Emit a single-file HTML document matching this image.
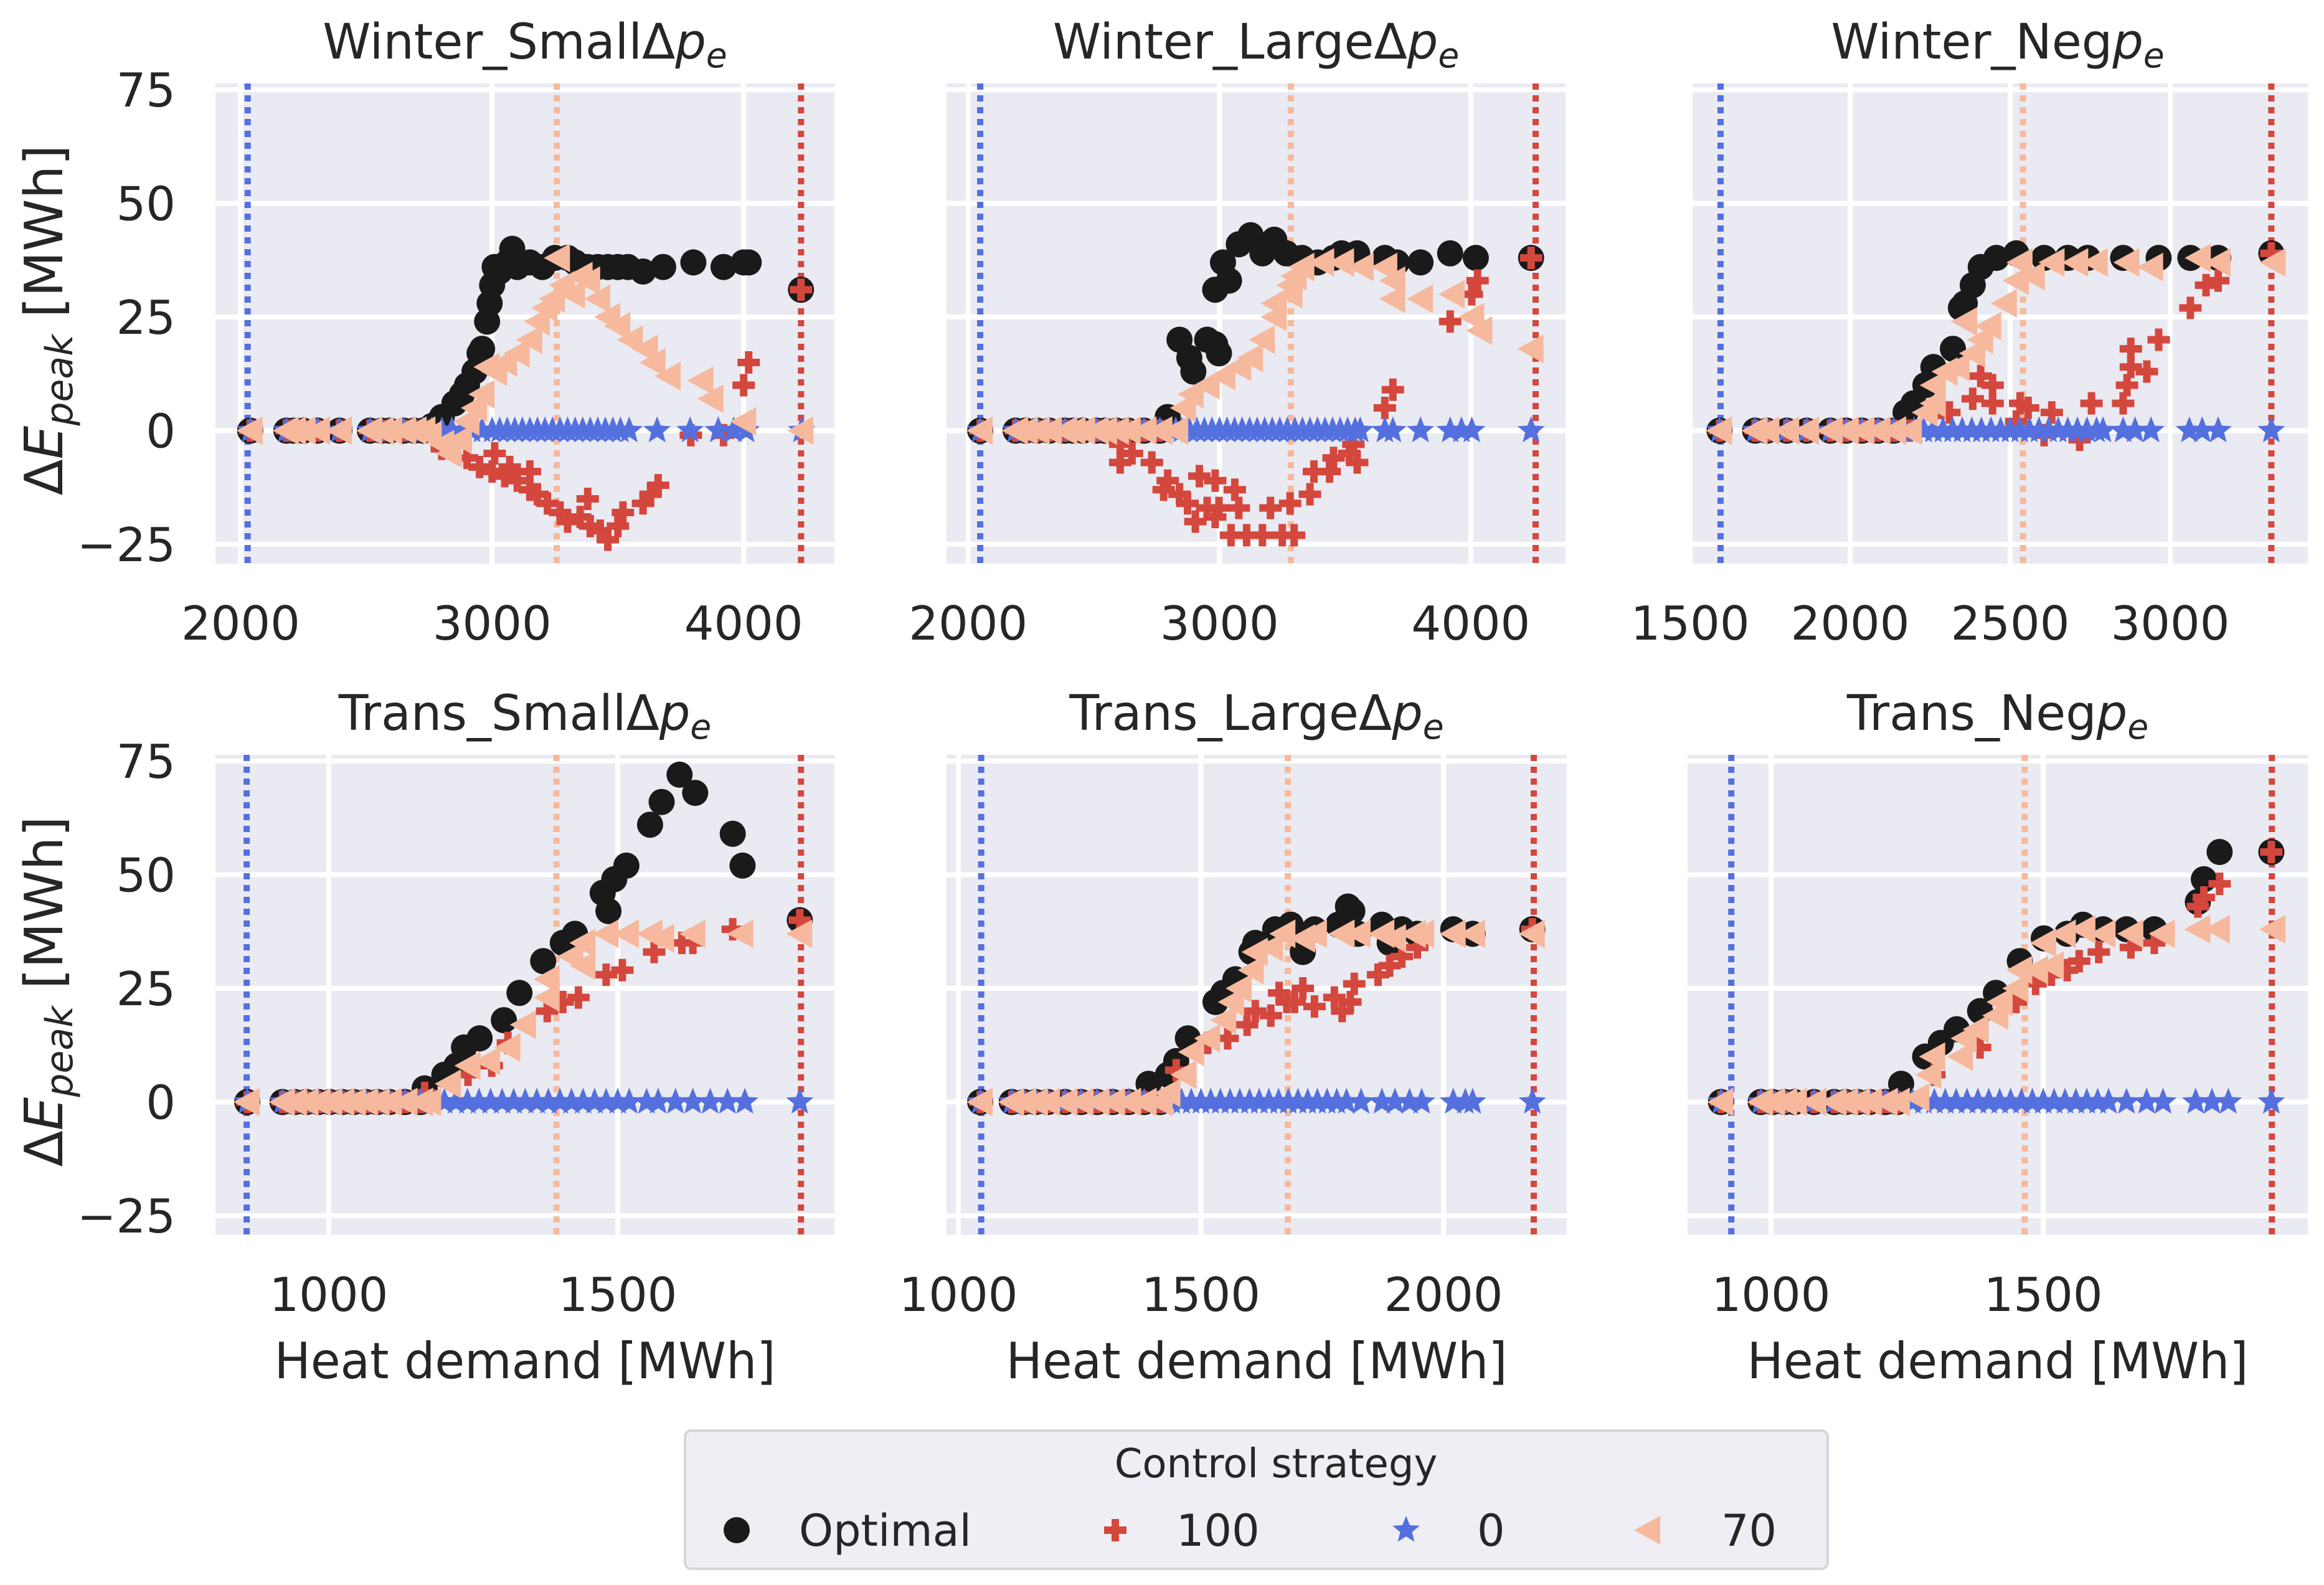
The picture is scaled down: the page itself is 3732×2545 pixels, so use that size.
<!DOCTYPE html>
<html><head><meta charset="utf-8"><style>
html,body{margin:0;padding:0;background:#fff;}
svg{display:block;font-family:"DejaVu Sans","Liberation Sans",sans-serif;}
</style></head><body>
<svg id="fig" width="3732" height="2545" viewBox="0 0 3732 2545" xmlns="http://www.w3.org/2000/svg"></svg>
<script>
// ---------- DATA ----------
const yTicks = [-25, 0, 25, 50, 75];
const titles = ["Winter_Small\u0394", "Winter_Large\u0394", "Winter_Neg", "Trans_Small\u0394", "Trans_Large\u0394", "Trans_Neg"];
const xTicks1 = [2000, 3000, 4000];
const xTicks2 = [2000, 3000, 4000];
const xTicks3 = [1500, 2000, 2500, 3000];
const xTicks4 = [1000, 1500];
const xTicks5 = [1000, 1500, 2000];
const xTicks6 = [1000, 1500];
const vlineBlue = [2028, 2048, 1595, 858, 1047, 927];
const vlinePeach = [3257, 3284, 2540, 1394, 1679, 1466];
const vlineRed = [4228, 4258, 3316, 1817, 2186, 1920];

const p1LowX = [2038, 2182, 2210, 2249, 2306, 2393, 2514, 2560, 2593, 2648, 2690];
const p1OptX = [2725,2760,2800,2850,2880,2900,2930,2950,2960,2980,2990,3000,3010,3030,3060,3080,3100,3150,3200,3250,3300,3330,3380,3420,3460,3500,3540,3600,3680,3800,3920,4000,4020,4228];
const p1OptY = [0,1,3,6,8,10,13,17,18,24,28,32,36,35,37,40,36,37,36,38,38,37,36,36,36,36,36,35,36,37,36,37,37,31];
const p1HundX = [2725,2800,2850,2900,2950,3000,3010,3050,3070,3100,3150,3150,3180,3220,3270,3300,3350,3380,3390,3430,3460,3500,3520,3600,3630,3660,3790,3920,4000,4020,4228];
const p1HundY = [0,-4,-3,-6,-8,-9,-5,-10,-8,-11,-13,-9,-14,-16,-18,-20,-19,-15,-21,-22,-24,-21,-18,-16,-14,-12,-1,-1,10,15,31];
const p1ZeroX = [2725,2760,2800,2840,2880,2920,2960,3000,3030,3060,3090,3120,3150,3180,3210,3240,3270,3300,3330,3360,3390,3420,3450,3480,3510,3545,3656,3787,3899,3960,4010,4230];
const p1ZeroY = [0,0,0,0,0,0,0,0,0,0,0,0,0,0,0,0,0,0,0,0,0,0,0,0,0,0,0,0,0,0,0,0];
const p1SevX = [2725,2750,2800,2830,2870,2900,2930,2960,2980,3010,3050,3100,3150,3180,3210,3240,3260,3280,3320,3350,3380,3420,3460,3500,3550,3610,3640,3700,3830,3870,4000,4228];
const p1SevY = [0,-1,-3,-5,-2,2,5,8,14,13,15,17,20,24,27,29,38,32,30,34,33,29,25,23,20,18,15,12,11,7,2,0];

const p2LowX = [2048,2189,2228,2275,2323,2385,2417,2456,2511,2543,2590,2637,2700,2763];
const p2OptX = [2794,2841,2880,2896,2951,2983,2998,2983,3038,3014,3077,3124,3171,3218,3266,3328,3391,3454,3486,3548,3658,3706,3800,3918,4020,4240];
const p2OptY = [3,20,16,13,20,19,17,31,33,37,41,43,39,42,39,38,37,38,39,39,38,37,37,39,38,38];
const p2HundX = [2605,2652,2605,2731,2794,2778,2841,2920,2983,2873,2951,2998,3061,3077,2904,2983,3046,3108,3171,3250,3297,3203,3281,3360,3376,3438,3454,3517,3548,3533,3658,3690,3918,4004,4027,4240];
const p2HundY = [-3,-5,-7,-7,-11,-13,-14,-10,-11,-16,-17,-17,-13,-17,-20,-19,-23,-23,-23,-23,-23,-17,-16,-14,-9,-9,-6,-5,-7,-3,5,9,24,30,33,38];
const p2ZeroX = [2763,2826,2850,2880,2910,2940,2970,3000,3030,3060,3090,3120,3150,3180,3210,3240,3270,3300,3330,3360,3390,3420,3450,3480,3510,3540,3560,3658,3690,3800,3918,3963,4004,4240];
const p2ZeroY = [0,0,0,0,0,0,0,0,0,0,0,0,0,0,0,0,0,0,0,0,0,0,0,0,0,0,0,0,0,0,0,0,0,0];
const p2SevX = [2763,2826,2857,2888,2951,3014,3077,3124,3171,3218,3218,3281,3281,3297,3328,3407,3486,3564,3658,3690,3690,3800,3926,4004,4036,4240];
const p2SevY = [0,0,5,8,10,12,14,16,20,25,28,30,32,34,36,37,37,36,36,33,29,29,30,25,22,18];

const p3LowX = [1592,1703,1740,1802,1864,1938,1988,2037,2087,2136];
const p3OptX = [2173,2198,2235,2260,2321,2346,2358,2383,2408,2457,2519,2606,2680,2742,2853,2964,3063,3150,3316];
const p3OptY = [4,6,10,14,18,27,28,32,36,38,39,38,38,38,38,38,38,38,39];
const p3HundX = [2185,2284,2310,2383,2408,2445,2445,2531,2556,2519,2630,2606,2754,2717,2853,2865,2877,2927,2877,2964,3063,3112,3150,3316];
const p3HundY = [0,5,4,7,12,10,6,6,5,2,4,-1,6,-2,6,10,14,13,18,20,27,32,33,39];
const p3ZeroX = [2136,2170,2200,2230,2260,2290,2320,2350,2380,2410,2440,2470,2500,2530,2560,2590,2620,2650,2680,2710,2740,2770,2790,2853,2890,2940,3060,3100,3150,3316];
const p3ZeroY = [0,0,0,0,0,0,0,0,0,0,0,0,0,0,0,0,0,0,0,0,0,0,0,0,0,0,0,0,0,0];
const p3SevX = [2136,2185,2235,2260,2260,2297,2334,2383,2408,2358,2433,2482,2519,2531,2569,2631,2705,2766,2865,2939,3088,3150,3322];
const p3SevY = [0,0,4,6,10,13,14,17,20,24,23,28,33,37,34,37,37,37,37,36,38,37,37];

const p4LowX = [859,920,941,961,982,1002,1023,1043,1064,1084,1105,1132,1159];
const p4OptX = [1166,1200,1221,1234,1261,1303,1330,1371,1405,1426,1484,1474,1494,1515,1556,1576,1607,1634,1699,1716,1815];
const p4OptY = [3,6,8,12,14,18,24,31,35,37,42,46,49,52,61,66,72,68,59,52,40];
const p4HundX = [1166,1241,1282,1310,1378,1405,1432,1480,1508,1563,1611,1630,1699,1815];
const p4HundY = [2,6,8,13,20,22,23,28,29,33,35,35,38,40];
const p4ZeroX = [1159,1180,1200,1220,1240,1260,1280,1300,1320,1340,1360,1380,1400,1420,1440,1460,1480,1500,1520,1550,1570,1600,1630,1660,1690,1720,1815];
const p4ZeroY = [0,0,0,0,0,0,0,0,0,0,0,0,0,0,0,0,0,0,0,0,0,0,0,0,0,0,0];
const p4SevX = [1159,1173,1207,1241,1275,1310,1337,1378,1378,1419,1440,1440,1480,1515,1556,1576,1630,1713,1815];
const p4SevY = [0,0,4,8,9,12,17,23,27,32,30,35,37,37,37,36,37,37,37];

const p5LowX = [1045,1110,1135,1159,1184,1220,1253,1286,1318,1351,1383,1416];
const p5OptX = [1392,1432,1449,1473,1530,1546,1571,1604,1612,1653,1685,1710,1734,1783,1803,1812,1824,1873,1889,1914,1946,2020,2060,2183];
const p5OptY = [4,6,9,14,22,24,27,33,35,38,39,33,38,39,43,42,37,39,35,38,37,38,37,38];
const p5HundX = [1449,1514,1555,1595,1612,1644,1661,1677,1693,1710,1734,1775,1791,1808,1816,1865,1889,1914,1946,2183];
const p5HundY = [7,13,14,17,20,19,24,22,22,25,21,23,20,22,26,28,30,32,34,38];
const p5ZeroX = [1416,1440,1460,1480,1500,1520,1540,1560,1580,1600,1620,1640,1660,1680,1700,1720,1740,1760,1780,1800,1830,1873,1900,1930,1955,2020,2045,2060,2183];
const p5ZeroY = [0,0,0,0,0,0,0,0,0,0,0,0,0,0,0,0,0,0,0,0,0,0,0,0,0,0,0,0,0];
const p5SevX = [1416,1432,1465,1481,1514,1547,1563,1579,1604,1612,1644,1669,1710,1734,1791,1824,1873,1897,1938,1955,2020,2060,2183];
const p5SevY = [0,2,6,11,14,18,22,25,29,33,34,37,36,37,37,37,37,36,37,37,37,37,37];

const p6LowX = [908,981,1003,1025,1043,1079,1116,1137,1159,1181,1210,1232];
const p6OptX = [1239,1283,1312,1341,1384,1413,1457,1501,1544,1573,1610,1653,1704,1784,1795,1824,1919];
const p6OptY = [4,10,13,16,20,24,31,36,37,39,38,38,38,44,49,55,55];
const p6HundX = [1300,1384,1450,1486,1515,1544,1566,1602,1661,1704,1784,1795,1824,1919];
const p6HundY = [6,12,22,26,28,29,31,33,34,35,43,45,48,55];
const p6ZeroX = [1232,1260,1280,1300,1320,1340,1360,1380,1400,1420,1440,1460,1480,1500,1520,1540,1560,1580,1600,1620,1653,1690,1720,1780,1810,1840,1919];
const p6ZeroY = [0,0,0,0,0,0,0,0,0,0,0,0,0,0,0,0,0,0,0,0,0,0,0,0,0,0,0];
const p6SevX = [1232,1268,1290,1297,1348,1355,1377,1413,1421,1450,1457,1486,1515,1501,1537,1573,1610,1661,1719,1784,1820,1922];
const p6SevY = [0,1,6,10,10,14,16,19,22,25,29,29,30,35,37,38,37,37,37,38,38,38];

// ---------- LAYOUT ----------
const NS = "http://www.w3.org/2000/svg";
const svg = document.getElementById("fig");
const C_OPT = "#1a1a1a", C_100 = "#d4473d", C_0 = "#5470df", C_70 = "#f6b99d";
const geo = [
  {l:346, t:134, w:994, xmin:1900, xmax:4361},
  {l:1520, t:134, w:994, xmin:1914, xmax:4377},
  {l:2710, t:134, w:996, xmin:1492, xmax:3430},
  {l:346, t:1212, w:994, xmin:804, xmax:1875},
  {l:1520, t:1212, w:996, xmin:975.6, xmax:2254},
  {l:2710, t:1212, w:996, xmin:846.7, xmax:1986}
];
const H = 771, YMIN = -29.25, YMAX = 76.37;
const allTicks = [xTicks1, xTicks2, xTicks3, xTicks4, xTicks5, xTicks6];
const series = [
  [p1LowX, p1OptX, p1OptY, p1HundX, p1HundY, p1ZeroX, p1ZeroY, p1SevX, p1SevY],
  [p2LowX, p2OptX, p2OptY, p2HundX, p2HundY, p2ZeroX, p2ZeroY, p2SevX, p2SevY],
  [p3LowX, p3OptX, p3OptY, p3HundX, p3HundY, p3ZeroX, p3ZeroY, p3SevX, p3SevY],
  [p4LowX, p4OptX, p4OptY, p4HundX, p4HundY, p4ZeroX, p4ZeroY, p4SevX, p4SevY],
  [p5LowX, p5OptX, p5OptY, p5HundX, p5HundY, p5ZeroX, p5ZeroY, p5SevX, p5SevY],
  [p6LowX, p6OptX, p6OptY, p6HundX, p6HundY, p6ZeroX, p6ZeroY, p6SevX, p6SevY]
];

function mk(tag, attrs, parent) {
  const e = document.createElementNS(NS, tag);
  for (const k in attrs) e.setAttribute(k, attrs[k]);
  (parent || svg).appendChild(e);
  return e;
}
function starPts(cx, cy, R, r) {
  const p = [];
  for (let i = 0; i < 10; i++) {
    const a = -Math.PI / 2 + i * Math.PI / 5;
    const rr = i % 2 ? r : R;
    p.push((cx + rr * Math.cos(a)).toFixed(1) + "," + (cy + rr * Math.sin(a)).toFixed(1));
  }
  return p.join(" ");
}
function drawMarker(kind, x, y, g) {
  let e;
  if (kind === "opt") {
    e = mk("circle", {cx: x, cy: y, r: 21, fill: C_OPT}, g);
  } else if (kind === "100") {
    e = mk("path", {d: `M${x-6},${y-18}h12v12h12v12h-12v12h-12v-12h-12v-12h12z`, fill: C_100}, g);
  } else if (kind === "0") {
    e = mk("polygon", {points: starPts(x, y, 23, 10), fill: C_0}, g);
  } else {
    e = mk("polygon", {points: `${x-22},${y} ${x+20},${y-23} ${x+20},${y+23}`, fill: C_70}, g);
  }
  return e;
}

geo.forEach((G, i) => {
  const sx = v => G.l + (v - G.xmin) / (G.xmax - G.xmin) * G.w;
  const sy = v => G.t + (YMAX - v) / (YMAX - YMIN) * H;
  const g = mk("g", {});
  
  
  const bg = mk("rect", {x: G.l, y: G.t, width: G.w, height: H, fill: "#eaeaf2"}, g);
  
  
  const clipId = "clip" + i;
  const cp = mk("clipPath", {id: clipId}, g);
  mk("rect", {x: G.l, y: G.t, width: G.w, height: H}, cp);
  const inner = mk("g", {"clip-path": "url(#" + clipId + ")"}, g);
  yTicks.forEach(t => {
    const ln = mk("line", {x1: G.l, x2: G.l + G.w, y1: sy(t), y2: sy(t), stroke: "#fff", "stroke-width": 8}, inner);
    
    
  });
  allTicks[i].forEach(t => {
    const ln = mk("line", {x1: sx(t), x2: sx(t), y1: G.t, y2: G.t + H, stroke: "#fff", "stroke-width": 8}, inner);
    
    
    const tl = mk("text", {x: sx(t), y: G.t + H + 122, "text-anchor": "middle", "font-size": 75, fill: "#262626"}, g);
    tl.textContent = t;
    
    
  });
  [[vlineBlue[i], C_0, 'blue-threshold-line'], [vlinePeach[i], C_70, 'peach-threshold-line'], [vlineRed[i], C_100, 'red-threshold-line']].forEach(([v, c, n]) => {
    const ln = mk("line", {x1: sx(v), x2: sx(v), y1: G.t, y2: G.t + H, stroke: c, "stroke-width": 10, "stroke-dasharray": "10 9"}, inner);
    
    
  });
  const [lowX, oX, oY, hX, hY, zX, zY, sX, sY] = series[i];
  const defs = [["opt", oX, oY, "optimal-point"], ["100", hX, hY, "strategy-100-point"], ["0", zX, zY, "strategy-0-point"], ["70", sX, sY, "strategy-70-point"]];
  defs.forEach(([kind, X, Y, name]) => {
    lowX.forEach(x => {
      const m = drawMarker(kind, sx(x), sy(0), inner);
      
      
    });
    X.forEach((x, j) => {
      const m = drawMarker(kind, sx(x), sy(Y[j] ?? 0), inner);
      
      
    });
  });
  if (i === 0 || i === 3) {
    yTicks.forEach(t => {
      const tl = mk("text", {x: 282, y: sy(t) + 27, "text-anchor": "end", "font-size": 75, fill: "#262626"}, g);
      tl.textContent = t < 0 ? "\u2212" + Math.abs(t) : String(t);
      
      
    });
    const yl = mk("text", {x: 0, y: 0, "text-anchor": "middle", "font-size": 85, fill: "#262626",
      transform: `translate(100,${G.t + 380}) rotate(-90)`}, g);
    yl.innerHTML = '\u0394<tspan font-style="italic">E</tspan><tspan font-style="italic" font-size="60" dy="16">peak</tspan><tspan dy="-16"> [MWh]</tspan>';
    
    
  }
  if (i >= 3) {
    const xl = mk("text", {x: G.l + G.w / 2, y: G.t + H + 230, "text-anchor": "middle", "font-size": 80, fill: "#262626", textLength: 805, lengthAdjust: "spacingAndGlyphs"}, g);
    xl.textContent = "Heat demand [MWh]";
    
    
  }
  const tt = mk("text", {x: G.l + G.w / 2, y: G.t - 40, "text-anchor": "middle", "font-size": 78, fill: "#262626"}, g);
  tt.innerHTML = titles[i] + '<tspan font-style="italic">p</tspan><tspan font-style="italic" font-size="55" dy="14">e</tspan>';
  
  
});

// ---------- LEGEND ----------
const lg = mk("g", {});


const box = mk("rect", {x: 1100, y: 2297, width: 1835, height: 222, rx: 10, fill: "#eeeef4", stroke: "#d6d6d6", "stroke-width": 4}, lg);


const lt = mk("text", {x: 2049, y: 2372, "text-anchor": "middle", "font-size": 64, fill: "#262626"}, lg);
lt.textContent = "Control strategy";


const legItems = [["opt", 1183, 1283, "Optimal"], ["100", 1791, 1889, "100"], ["0", 2258, 2372, "0"], ["70", 2646, 2764, "70"]];
legItems.forEach(([k, mx, tx, lab]) => {
  const m = drawMarker(k, mx, 2457, lg);
  
  
  const t = mk("text", {x: tx, y: 2482, "font-size": 70, fill: "#262626"}, lg);
  t.textContent = lab;
  
  
});
</script>
</body></html>
